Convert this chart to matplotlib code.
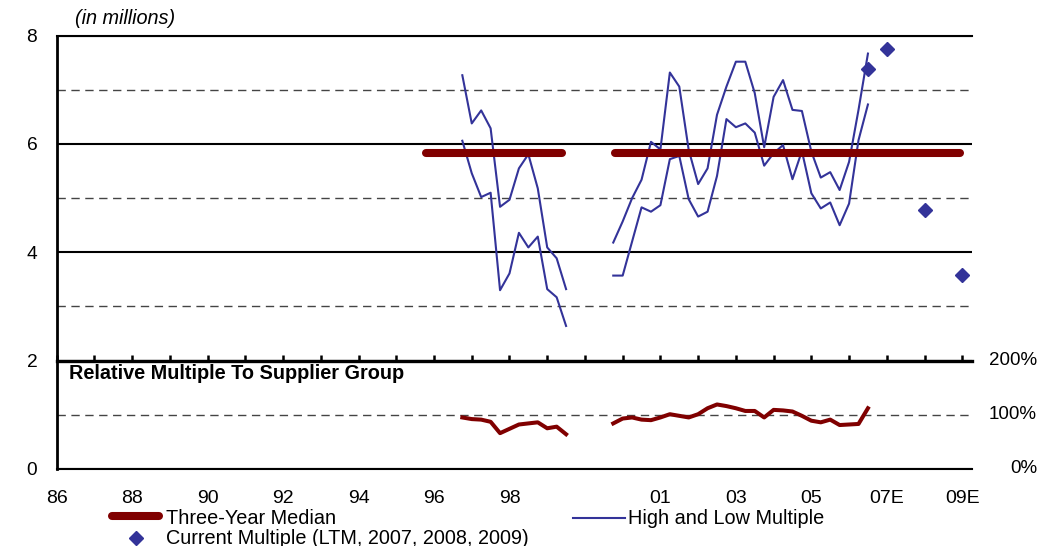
import numpy as np
import matplotlib
matplotlib.use("Agg")
import matplotlib.pyplot as plt
from matplotlib.lines import Line2D

plt.rcParams['font.family'] = ['Liberation Sans', 'DejaVu Sans']

nan = np.nan

# one slot per tick on the x axis, labels every other slot
tick_labels = ["86", "", "88", "", "90", "", "92", "", "94", "", "96", "", "98", "", "", "",
               "01", "", "03", "", "05", "", "07E", "", "09E"]

# quarterly multiples, first quarter at slot 10.75
q_start = 10.75
q_step = 0.25
high_multiple = [7.27, 6.38, 6.62, 6.29, 4.84, 4.97, 5.55, 5.81, 5.18, 4.09, 3.89, 3.32,
                 nan, nan, nan, nan,
                 4.18, 4.57, 5.00, 5.34, 6.04, 5.90, 7.32, 7.06, 5.89, 5.26,
                 5.55, 6.54, 7.06, 7.52, 7.52, 6.94, 5.94, 6.87, 7.18, 6.63,
                 6.61, 5.86, 5.38, 5.48, 5.15, 5.67, 6.63, 7.67]
low_multiple = [6.06, 5.46, 5.02, 5.10, 3.30, 3.61, 4.36, 4.09, 4.29, 3.32, 3.17, 2.64,
                nan, nan, nan, nan,
                3.57, 3.57, 4.20, 4.83, 4.75, 4.87, 5.72, 5.78, 4.98, 4.66,
                4.75, 5.41, 6.46, 6.31, 6.38, 6.21, 5.60, 5.83, 5.98, 5.35,
                5.87, 5.09, 4.81, 4.92, 4.50, 4.90, 6.07, 6.73]
# relative multiple to supplier group (1.0 = 100%)
relative_multiple = [0.95, 0.92, 0.91, 0.87, 0.66, 0.74, 0.82, 0.84, 0.86, 0.75, 0.78, 0.64,
                     nan, nan, nan, nan,
                     0.84, 0.93, 0.95, 0.91, 0.90, 0.95, 1.01, 0.98, 0.95, 1.01,
                     1.12, 1.19, 1.16, 1.12, 1.07, 1.07, 0.95, 1.09, 1.08, 1.06,
                     0.98, 0.89, 0.86, 0.91, 0.81, 0.82, 0.83, 1.12]

median_value = 5.84
median_spans = [(9.8, 13.4), (14.8, 23.95)]

current_pos = [21.5, 22, 23, 24]
current_multiple = [7.38, 7.75, 4.79, 3.58]

right_ticks = [0, 1, 2]
right_labels = ["0%", "100%", "200%"]

RED = "#800000"
BLUE = "#333399"
FS = 14.3

W, H = 1040, 546
fig = plt.figure(figsize=(W / 100, H / 100), dpi=100)
ax = fig.add_axes([56.7 / W, (H - 468.9) / H, 915 / W, 433.2 / H])

xq = q_start + q_step * np.arange(len(high_multiple))

ax.plot(xq, high_multiple, color=BLUE, lw=1.5, zorder=3)
ax.plot(xq, low_multiple, color=BLUE, lw=1.5, zorder=3)
for x0, x1 in median_spans:
    ax.plot([x0, x1], [median_value, median_value], color=RED, lw=5.8,
            solid_capstyle='round', zorder=4)
ax.plot(xq, relative_multiple, color=RED, lw=2.9, zorder=3)
ax.plot(current_pos, current_multiple, ls='none', marker='D', ms=7.5,
        color=BLUE, mec=BLUE, zorder=5, clip_on=False)

ax.set_xlim(0, 24.25)
ax.set_ylim(0, 8)

# grid: solid on even values, dashed on odd ones
ax.set_yticks([0, 2, 4, 6, 8])
ax.set_yticks([1, 3, 5, 7], minor=True)
ax.set_axisbelow(True)
ax.grid(axis='y', which='major', color='black', lw=1.5)
ax.grid(axis='y', which='minor', color='#444444', lw=1, ls=(0, (6, 4)))
ax.tick_params(axis='y', which='both', length=0, pad=14, labelsize=13.8)

ax.spines['right'].set_visible(False)
ax.spines['top'].set_linewidth(1.5)
ax.spines['left'].set_linewidth(2)
ax.spines['bottom'].set_position(('data', 2))
ax.spines['bottom'].set_linewidth(2.4)
ax.set_xticks(range(len(tick_labels)))
ax.set_xticklabels([])
ax.tick_params(axis='x', direction='in', length=4, width=1.8)

sec = ax.secondary_xaxis('bottom')
lab_pos = [i for i, t in enumerate(tick_labels) if t]
sec.set_xticks(lab_pos, [tick_labels[i] for i in lab_pos])
sec.tick_params(length=0, pad=15, labelsize=14)
sec.spines['bottom'].set_linewidth(1.5)

for v, lab in zip(right_ticks, right_labels):
    ax.text(1.0714, v, lab, transform=ax.get_yaxis_transform(),
            ha='right', va='center', fontsize=13.5)

ax.text(0.0135, 1.77, "Relative Multiple To Supplier Group", transform=ax.get_yaxis_transform(),
        ha='left', va='center', fontsize=14.3, fontweight='bold')

fig.text(75 / W, (H - 18.3) / H, "(in millions)", fontsize=FS, style='italic',
         ha='left', va='center')

# legend
def fx(px):
    return px / W


def fy(py):
    return (H - py) / H


fig.add_artist(Line2D([fx(111.7), fx(159.3)], [fy(516), fy(516)], color=RED, lw=5.8,
                      solid_capstyle='round', transform=fig.transFigure))
fig.text(fx(166.5), fy(519), "Three-Year Median", fontsize=FS, ha='left', va='center')
fig.add_artist(Line2D([fx(573.3), fx(625)], [fy(518.3), fy(518.3)], color=BLUE, lw=1.5,
                      transform=fig.transFigure))
fig.text(fx(628.5), fy(519), "High and Low Multiple", fontsize=FS, ha='left', va='center')
fig.add_artist(Line2D([fx(136)], [fy(537.7)], ls='none', marker='D', ms=7, color=BLUE,
                      transform=fig.transFigure))
fig.text(fx(166.5), fy(538), "Current Multiple (LTM, 2007, 2008, 2009)", fontsize=FS,
         ha='left', va='center')

fig.savefig("out.png", dpi=100)
